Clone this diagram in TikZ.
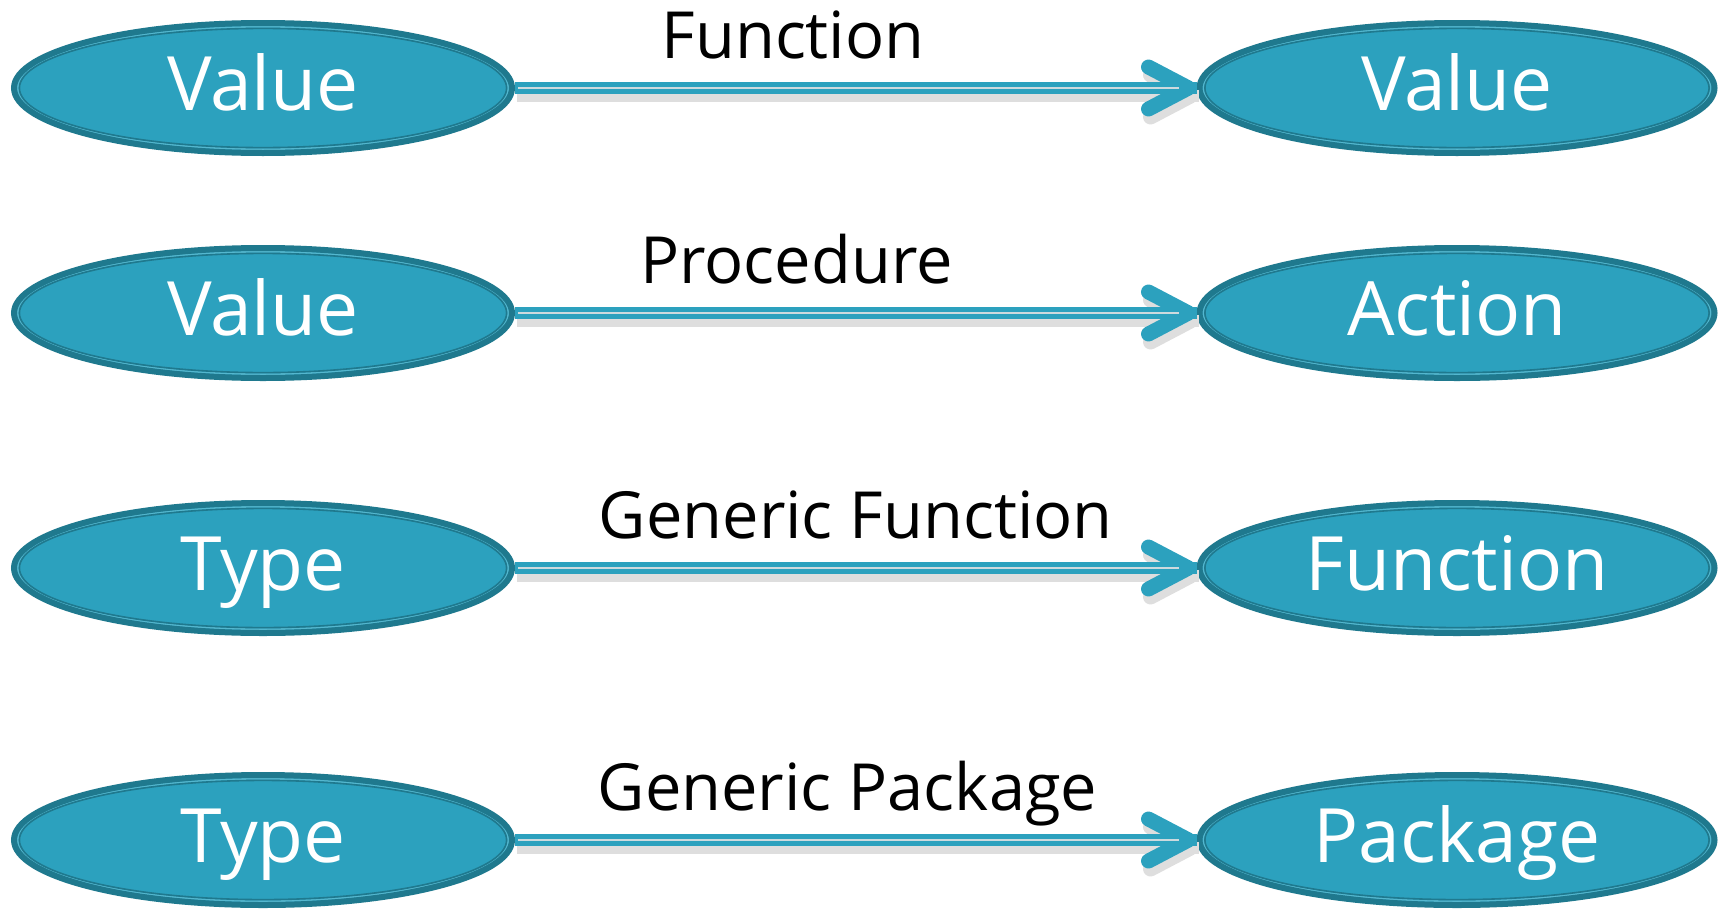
\documentclass[tikz,border=0pt]{standalone}
\usepackage{fontspec}
\setmainfont{Open Sans}
\usetikzlibrary{calc,shapes.geometric,decorations.markings}
\definecolor{ovalfill}{RGB}{44,161,190}
\definecolor{ovaldark}{RGB}{31,121,142}
\definecolor{ovallight}{RGB}{84,183,207}
\definecolor{arrowgap}{RGB}{205,218,222}
\tikzset{
    oval/.style = {ellipse,
                    fill=ovalfill,
                    draw=ovaldark,
                    text=white,
                    line width=6pt,
                    inner sep=0pt,
                    minimum height=130pt,
                    text height=54pt,
                    text depth=10pt,
                    font=\fontsize{75}{90}\selectfont,
                    path picture={
                        \draw[ovallight, line width=1.6pt]
                            let \p1 = ($(path picture bounding box.north east)-(path picture bounding box.center)$)
                            in (path picture bounding box.center) ellipse [x radius=\x1-3.8pt, y radius=\y1-3.8pt];
                        \draw[ovaldark, line width=1.6pt]
                            let \p1 = ($(path picture bounding box.north east)-(path picture bounding box.center)$)
                            in (path picture bounding box.center) ellipse [x radius=\x1-5.4pt, y radius=\y1-5.4pt];
                    }},
    small/.style =  {minimum width=498pt},
    big/.style =    {minimum width=515pt},
    chevron/.style = {postaction={decorate,
                    decoration={markings, mark=at position 1 with {
                        \draw[#1, line width=15pt, line cap=round, line join=round]
                            (-48pt,21pt) -- (-8pt,0pt) -- (-48pt,-21pt);}}}},
    link/.style =   {draw=ovalfill, line width=12pt, chevron=ovalfill},
    shade/.style =  {draw=black!13, line width=12pt, chevron=black!13,
                    transform canvas={shift={(2pt,-8pt)}}},
    gap/.style =    {draw=arrowgap, line width=2.6pt,
                    shorten <=3pt, shorten >=18pt},
    lbl/.style =    {anchor=base,
                    yshift=30pt,
                    text=black,
                    font=\fontsize{65}{78}\selectfont}
}

\begin{document}
\begin{tikzpicture}[x=1pt, y=-1pt, node distance=1194pt]
    \useasboundingbox (0,0) rectangle (1729,910);
    \node[oval,small]   (v1) at (263,88)                        {Value};
    \node[oval,small]   (v2) [below of=v1, node distance=225pt] {Value};
    \node[oval,small]   (v3) [below of=v2, node distance=255pt] {Type};
    \node[oval,small]   (v4) [below of=v3, node distance=272pt] {Type};
    \node[oval,big]     (w1) [right of=v1]                      {Value};
    \node[oval,big]     (w2) [right of=v2]                      {Action};
    \node[oval,big]     (w3) [right of=v3]                      {Function};
    \node[oval,big]     (w4) [right of=v4]                      {Package};
    % shadows under the connectors
    \foreach \a/\b in {v1/w1,v2/w2,v3/w3,v4/w4}
        \draw [shade] (\a) -- (\b);
    \draw [link]    (v1) -- node [lbl, pos=0.408] {Function} (w1);
    \draw [link]    (v2) -- node [lbl, pos=0.413] {Procedure} (w2);
    \draw [link]    (v3) -- node [lbl, pos=0.500] {Generic Function} (w3);
    \draw [link]    (v4) -- node [lbl, pos=0.488] {Generic Package} (w4);
    % light stripe along each connector
    \foreach \a/\b in {v1/w1,v2/w2,v3/w3,v4/w4}
        \draw [gap] (\a) -- (\b);
\end{tikzpicture}
\end{document}
